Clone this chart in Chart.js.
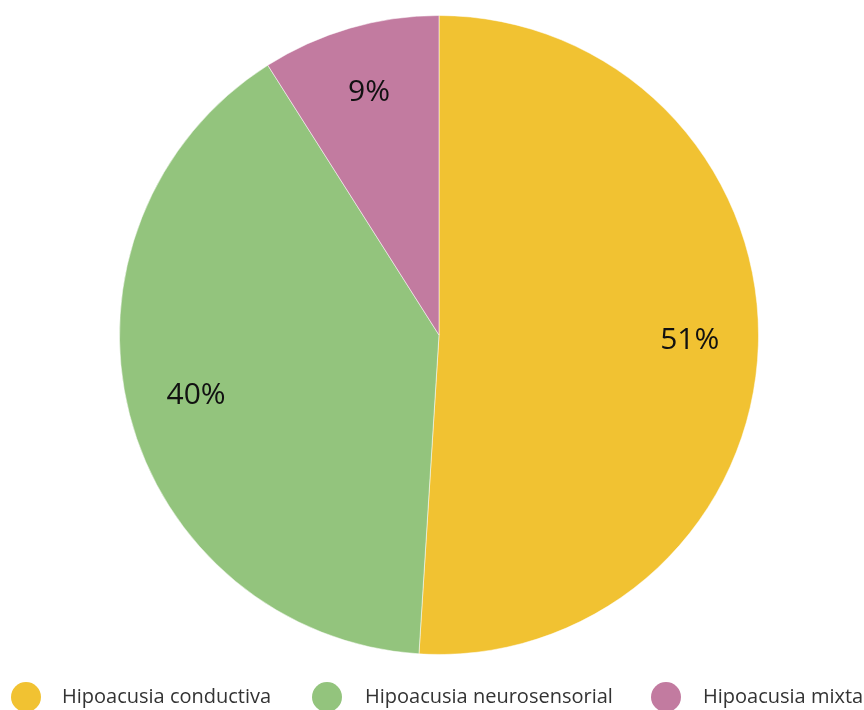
<!DOCTYPE html>
<html>
<head>
<meta charset="utf-8">
<script src="https://cdn.jsdelivr.net/npm/chart.js@4"></script>
<style>
  html, body { margin: 0; padding: 0; background: #fff; }
  #wrap { width: 864px; height: 710px; }
</style>
</head>
<body>
<div id="wrap"><canvas id="c" width="864" height="710"></canvas></div>
<script>
const categories = ['Hipoacusia conductiva', 'Hipoacusia neurosensorial', 'Hipoacusia mixta'];
const percentages = [51, 40, 9];
const sliceColors = ['#F1C232', '#93C47D', '#C27BA0'];

// Percentage labels inside each slice
const sliceLabels = {
  id: 'sliceLabels',
  afterDatasetsDraw(chart) {
    const ctx = chart.ctx;
    const meta = chart.getDatasetMeta(0);
    ctx.save();
    ctx.font = '30px "Open Sans", sans-serif';
    ctx.fillStyle = '#111';
    ctx.textAlign = 'center';
    ctx.textBaseline = 'middle';
    meta.data.forEach((arc, i) => {
      const mid = (arc.startAngle + arc.endAngle) / 2;
      const r = arc.outerRadius * 0.785;
      ctx.fillText(percentages[i] + '%', arc.x + Math.cos(mid) * r, arc.y + Math.sin(mid) * r - 2);
    });
    ctx.restore();
  }
};

// Legend row along the bottom edge
const bottomLegend = {
  id: 'bottomLegend',
  afterDraw(chart) {
    const ctx = chart.ctx;
    const markers = [26, 327, 666];
    const textStarts = [62, 365, 703];
    const y = 697;
    ctx.save();
    ctx.font = '20px "Open Sans", sans-serif';
    ctx.textBaseline = 'middle';
    ctx.textAlign = 'left';
    categories.forEach((name, i) => {
      ctx.fillStyle = sliceColors[i];
      ctx.beginPath();
      ctx.ellipse(markers[i], y, 15, 15, 0, 0, Math.PI * 2);
      ctx.fill();
      ctx.fillStyle = '#333';
      ctx.fillText(name, textStarts[i], y);
    });
    ctx.restore();
  }
};

new Chart(document.getElementById('c'), {
  type: 'pie',
  data: {
    labels: categories,
    datasets: [{
      data: percentages,
      backgroundColor: sliceColors,
      borderColor: 'rgba(255,255,255,0.5)',
      borderWidth: 1
    }]
  },
  options: {
    responsive: false,
    animation: false,
    layout: { padding: { top: 15, bottom: 55, left: 14, right: 0 } },
    plugins: {
      legend: { display: false },
      tooltip: { enabled: false }
    }
  },
  plugins: [sliceLabels, bottomLegend]
});
</script>
</body>
</html>
